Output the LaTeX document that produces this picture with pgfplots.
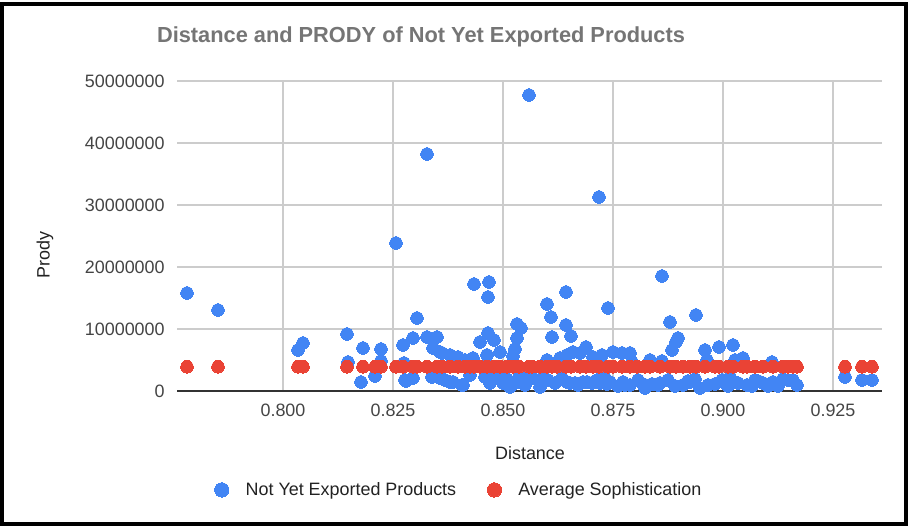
\documentclass[border=0pt]{standalone}
\usepackage{fontspec}
\setmainfont{Liberation Sans}
\usepackage{pgfplots}
\pgfplotsset{compat=1.18}
\definecolor{gblue}{HTML}{4285F4}
\definecolor{gred}{HTML}{EA4335}
\definecolor{gridc}{HTML}{CCCCCC}
\definecolor{titlec}{HTML}{757575}
\definecolor{tickc}{HTML}{444444}
\definecolor{basec}{HTML}{333333}
\definecolor{labc}{HTML}{222222}
\begin{document}
\begin{tikzpicture}
\useasboundingbox (0,0) rectangle (18.16cm,-10.54cm);
\node[font=\fontsize{12.4pt}{14pt}\selectfont\bfseries, text=titlec] at (8.42cm,-0.74cm) {Distance and PRODY of Not Yet Exported Products};
\node[font=\fontsize{10.2pt}{12pt}\selectfont, text=labc, rotate=90] at (0.9cm,-5.1cm) {Prody};
\node[font=\fontsize{10.2pt}{12pt}\selectfont, text=labc] at (10.6cm,-9.06cm) {Distance};
\begin{axis}[
  at={(3.54cm,-7.82cm)}, anchor=south west,
  scale only axis, width=14.1cm, height=6.2cm,
  xmin=0.77591, xmax=0.93614, ymin=0, ymax=50000000,
  scaled y ticks=false, scaled x ticks=false,
  xtick={0.8,0.825,0.85,0.875,0.9,0.925},
  xticklabels={0.800,0.825,0.850,0.875,0.900,0.925},
  ytick={0,10000000,20000000,30000000,40000000,50000000},
  yticklabels={0,10000000,20000000,30000000,40000000,50000000},
  major tick length=0pt,
  grid=major, grid style={gridc, line width=0.8pt},
  axis line style={draw=none},
  extra y ticks={0}, extra y tick labels={},
  extra y tick style={grid style={basec, line width=0.9pt}},
  tick label style={font=\fontsize{10.2pt}{12pt}\selectfont, text=tickc},
  xticklabel style={yshift=-4pt},
  yticklabel style={xshift=-3.5pt},
  clip=false,
  legend style={at={(rel axis cs:0.401,-0.319)}, anchor=center, draw=none, fill=none,
    legend columns=2, font=\fontsize{10.2pt}{12pt}\selectfont, text=labc,
    /tikz/every even column/.append style={column sep=0.55cm}},
  legend image code/.code={\draw[#1, mark size=4.1pt] plot coordinates {(0cm,0cm)}; \path (0.4cm,0cm);},
]
\addplot[only marks, mark=*, color=gblue, mark size=3.6pt, mark options={line width=0pt}] coordinates {
(0.77818,15806000)(0.78523,13064000)(0.80341,6613000)(0.80455,7742000)(0.81455,9194000)
(0.81477,4677000)(0.81818,6935000)(0.82227,6774000)(0.82227,4839000)(0.81773,1452000)
(0.82091,2419000)(0.82568,23871000)(0.83045,11774000)(0.82727,7419000)(0.82955,8548000)
(0.83273,8710000)(0.8275,4516000)(0.82795,1613000)(0.82955,2097000)(0.82773,1774000)
(0.83273,38226000)(0.83409,6935000)(0.835,8710000)(0.83568,6290000)(0.83614,6129000)
(0.83795,5806000)(0.83977,5484000)(0.84136,5000000)(0.83682,1774000)(0.83864,1452000)
(0.84091,968000)(0.8425,2581000)(0.83386,2258000)(0.83568,2097000)(0.83795,1452000)
(0.84068,968000)(0.84341,17258000)(0.84682,17581000)(0.84659,15161000)(0.84659,9355000)
(0.84477,7903000)(0.84795,8226000)(0.84932,6290000)(0.84636,5806000)(0.84318,5323000)
(0.84591,2258000)(0.84864,2903000)(0.85091,1935000)(0.85273,1290000)(0.85364,2258000)
(0.8475,1774000)(0.85,1290000)(0.85159,645000)(0.84705,1290000)(0.85318,10806000)
(0.85409,10161000)(0.85318,8548000)(0.85273,6774000)(0.85227,5645000)(0.85591,47742000)
(0.85545,2097000)(0.855,968000)(0.85659,2097000)(0.85841,645000)(0.85909,2258000)
(0.86023,1774000)(0.86182,1290000)(0.86341,2097000)(0.86455,1452000)(0.86523,1290000)
(0.86636,1290000)(0.86705,968000)(0.86818,1452000)(0.86909,1452000)(0.87023,1290000)
(0.87136,1774000)(0.87205,1290000)(0.87318,2097000)(0.87432,1452000)(0.87614,806000)
(0.87773,968000)(0.86432,15968000)(0.86,14032000)(0.86091,11935000)(0.86432,10645000)
(0.86545,8871000)(0.86114,8710000)(0.87386,13387000)(0.86886,7097000)(0.86591,6290000)
(0.8675,6129000)(0.86455,5806000)(0.86,5000000)(0.86295,5323000)(0.8725,5806000)
(0.875,6290000)(0.87705,6129000)(0.87045,5484000)(0.87182,31290000)(0.88614,18548000)
(0.89386,12258000)(0.88795,11129000)(0.88977,8548000)(0.88932,7903000)(0.88841,6613000)
(0.8959,6613000)(0.89909,7097000)(0.90227,7419000)(0.88341,5000000)(0.88614,4839000)
(0.87886,6129000)(0.89636,5000000)(0.90455,5323000)(0.91114,4677000)(0.87932,4677000)
(0.90273,5000000)(0.87886,968000)(0.88068,1774000)(0.88227,484000)(0.88386,1129000)
(0.88568,1290000)(0.8875,1774000)(0.88909,806000)(0.89091,968000)(0.8925,1452000)
(0.89364,1935000)(0.89477,484000)(0.89659,968000)(0.89818,1129000)(0.89977,1774000)
(0.90114,806000)(0.90159,2258000)(0.90341,1290000)(0.90545,968000)(0.90659,806000)
(0.90727,1774000)(0.90909,1290000)(0.91023,806000)(0.91136,1452000)(0.9125,806000)
(0.91364,1935000)(0.91477,1774000)(0.91591,1774000)(0.91682,968000)(0.87364,1129000)
(0.87727,1452000)(0.88182,1129000)(0.88523,968000)(0.89205,1613000)(0.90045,1290000)
(0.90795,1613000)(0.92773,2258000)(0.93159,1774000)(0.93386,1774000)
};
\addlegendentry{Not Yet Exported Products}
\addplot[only marks, mark=*, color=gred, mark size=3.6pt, mark options={line width=0pt}] coordinates {
(0.77818,3920000)(0.78523,3920000)(0.80341,3920000)(0.80455,3920000)(0.81455,3920000)
(0.81818,3920000)(0.82091,3920000)(0.82227,3920000)(0.82568,3920000)(0.82727,3920000)
(0.82955,3920000)(0.83045,3920000)(0.83273,3920000)(0.835,3920000)(0.83614,3920000)
(0.83795,3920000)(0.83977,3920000)(0.84136,3920000)(0.8425,3920000)(0.84341,3920000)
(0.84477,3920000)(0.84636,3920000)(0.84795,3920000)(0.84932,3920000)(0.85091,3920000)
(0.85227,3920000)(0.85364,3920000)(0.85591,3920000)(0.85659,3920000)(0.85841,3920000)
(0.86,3920000)(0.86114,3920000)(0.86227,3920000)(0.86432,3920000)(0.86545,3920000)
(0.8675,3920000)(0.86886,3920000)(0.87045,3920000)(0.87182,3920000)(0.87386,3920000)
(0.875,3920000)(0.87705,3920000)(0.87886,3920000)(0.88045,3920000)(0.88227,3920000)
(0.88341,3920000)(0.88568,3920000)(0.88795,3920000)(0.88932,3920000)(0.89091,3920000)
(0.8925,3920000)(0.89386,3920000)(0.8959,3920000)(0.89818,3920000)(0.89909,3920000)
(0.90114,3920000)(0.90227,3920000)(0.90455,3920000)(0.90545,3920000)(0.90727,3920000)
(0.90909,3920000)(0.91136,3920000)(0.91364,3920000)(0.91477,3920000)(0.91591,3920000)
(0.91682,3920000)(0.92773,3920000)(0.93159,3920000)(0.93386,3920000)
};
\addlegendentry{Average Sophistication}
\end{axis}
\draw[line width=0.08cm] (0.04cm,-0.09cm) rectangle (18.12cm,-10.48cm);
\end{tikzpicture}
\end{document}
